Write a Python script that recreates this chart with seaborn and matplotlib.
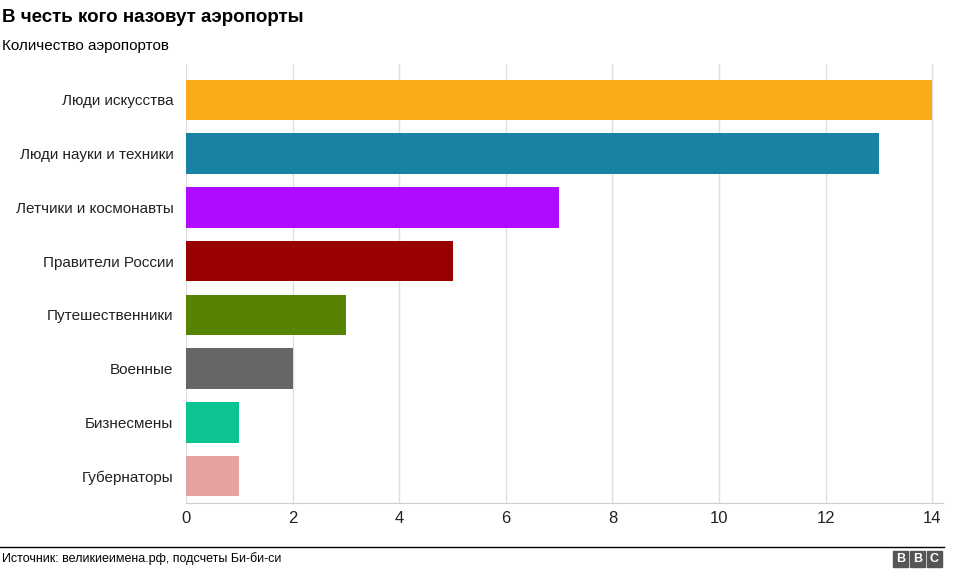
import matplotlib
matplotlib.use("Agg")
import matplotlib.pyplot as plt
import seaborn as sns
import pandas as pd
from matplotlib.patches import Rectangle

categories = ["Люди искусства", "Люди науки и техники", "Летчики и космонавты",
              "Правители России", "Путешественники", "Военные", "Бизнесмены", "Губернаторы"]
values = [14, 13, 7, 5, 3, 2, 1, 1]
colors = ["#FAAB18", "#1782A4", "#AE0BFF", "#990000", "#588300", "#666666", "#0BC393", "#E6A1A1"]
x_ticks = [0, 2, 4, 6, 8, 10, 12, 14]

plt.rcParams["font.family"] = "Liberation Sans"
df = pd.DataFrame({"cat": categories, "val": values})

fig = plt.figure(figsize=(9.76, 5.72), dpi=100)
ax = fig.add_axes([186/976, 1-503/572, (943-186)/976, (503-64)/572])
sns.barplot(data=df, x="val", y="cat", hue="cat", palette=colors, legend=False,
            orient="h", width=0.75, saturation=1, ax=ax, zorder=3)
ax.set_xlim(0, 14.2)
ax.set_ylim(7.5, -0.5 - 9/53.6)
ax.set_xticks(x_ticks)
ax.set_xlabel("")
ax.set_ylabel("")
ax.grid(axis="x", color="#dddddd", linewidth=1, zorder=0)
for s in ["top", "right", "left"]:
    ax.spines[s].set_visible(False)
ax.spines["bottom"].set_color("#cccccc")
ax.tick_params(axis="y", length=0, labelsize=11, colors="#222222", pad=9)
ax.tick_params(axis="x", length=0, labelsize=12, colors="#222222", pad=6)

fig.text(2/976, 1-17/572, "В честь кого назовут аэропорты", fontsize=13.5, fontweight="bold", va="center")
fig.text(2/976, 1-46/572, "Количество аэропортов", fontsize=11, va="center")
fig.add_artist(plt.Line2D([0, 944/976], [1-547/572]*2, color="black", linewidth=1))
fig.text(2/976, 1-559/572, "Источник: великиеимена.рф, подсчеты Би-би-си", fontsize=9, va="center")
for i, ch in enumerate("BBC"):
    x0 = (893 + i*17)/976
    fig.add_artist(Rectangle((x0, 1-567/572), 15/976, 16/572, color="#555555"))
    fig.text(x0 + 7.5/976, 1-559/572, ch, color="white", fontsize=9, fontweight="bold",
             ha="center", va="center")

fig.savefig("out.png", dpi=100)
